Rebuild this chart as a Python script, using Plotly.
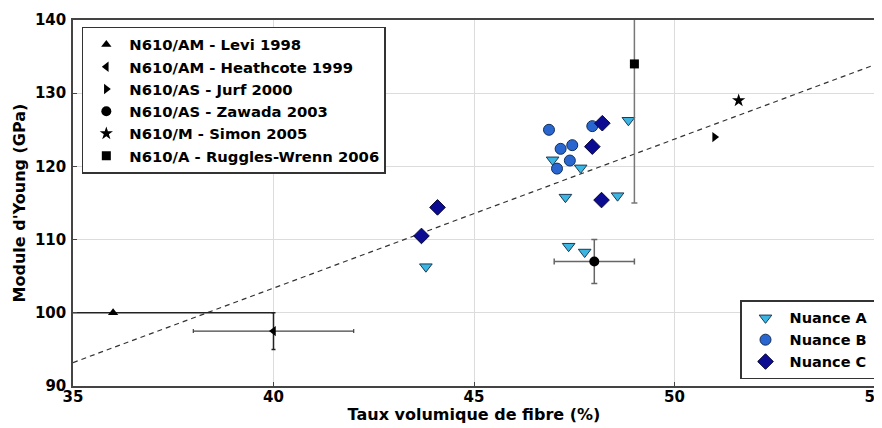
import plotly.graph_objects as go

# ---------------- data ----------------
# Literature references (single points with error bars)
levi_x, levi_y = [36.0], [100.0]
levi_xerr = [4.0]

heath_x, heath_y = [40.0], [97.5]
heath_xerr, heath_yerr = [2.0], [2.5]

jurf_x, jurf_y = [51.0], [124.0]

zawada_x, zawada_y = [48.0], [107.0]
zawada_xerr, zawada_yerr = [1.0], [3.0]

simon_x, simon_y = [51.6], [129.0]

ruggles_x, ruggles_y = [49.0], [134.0]
ruggles_yerr = [19.0]

# Nuances
nuanceA_x = [43.80, 46.96, 47.28, 47.36, 47.66, 47.76, 48.58, 48.85]
nuanceA_y = [106.3, 120.9, 115.8, 109.1, 119.8, 108.3, 116.0, 126.3]

nuanceB_x = [46.87, 47.16, 47.45, 47.39, 47.07, 47.95]
nuanceB_y = [125.0, 122.4, 122.9, 120.8, 119.7, 125.5]

nuanceC_x = [48.20, 47.95, 48.18, 44.09, 43.69]
nuanceC_y = [125.9, 122.7, 115.4, 114.4, 110.5]

# Linear trend line endpoints
fit_x = [35.0, 55.0]
fit_y = [93.2, 133.9]

x_ticks = [35, 40, 45, 50, 55]
y_ticks = [90, 100, 110, 120, 130, 140]

# ---------------- figure ----------------
FONT = "DejaVu Sans"
fig = go.Figure()

fig.add_trace(go.Scatter(x=fit_x, y=fit_y, mode="lines",
                         line=dict(color="#333333", width=1.2, dash="5px,4px"),
                         showlegend=False, hoverinfo="skip"))

fig.add_trace(go.Scatter(x=nuanceA_x, y=nuanceA_y, mode="markers", name="Nuance A",
                         marker=dict(symbol="triangle-down", size=11, color="#3bb6e2",
                                     line=dict(color="#1a3a55", width=1)),
                         legend="legend2"))
fig.add_trace(go.Scatter(x=nuanceB_x, y=nuanceB_y, mode="markers", name="Nuance B",
                         marker=dict(symbol="circle", size=11, color="#2a66d0",
                                     line=dict(color="#10305a", width=1)),
                         legend="legend2"))
fig.add_trace(go.Scatter(x=nuanceC_x, y=nuanceC_y, mode="markers", name="Nuance C",
                         marker=dict(symbol="diamond", size=12, color="#0c0c92",
                                     line=dict(color="#05053a", width=1)),
                         legend="legend2"))

err_col = "#444444"
fig.add_trace(go.Scatter(x=levi_x, y=levi_y, mode="markers", name="N610/AM - Levi 1998",
                         marker=dict(symbol="triangle-up", size=9, color="black"),
                         error_x=dict(type="data", array=levi_xerr, color="#222222",
                                      thickness=1.5, width=0)))
fig.add_trace(go.Scatter(x=heath_x, y=heath_y, mode="markers", name="N610/AM - Heathcote 1999",
                         marker=dict(symbol="triangle-left", size=9, color="black"),
                         error_x=dict(type="data", array=heath_xerr, color=err_col,
                                      thickness=1.2, width=2),
                         error_y=dict(type="data", array=heath_yerr, color="#222222",
                                      thickness=1.5, width=2)))
fig.add_trace(go.Scatter(x=jurf_x, y=jurf_y, mode="markers", name="N610/AS - Jurf 2000",
                         marker=dict(symbol="triangle-right", size=9, color="black")))
fig.add_trace(go.Scatter(x=zawada_x, y=zawada_y, mode="markers", name="N610/AS - Zawada 2003",
                         marker=dict(symbol="circle", size=10, color="black"),
                         error_x=dict(type="data", array=zawada_xerr, color="#666666",
                                      thickness=1.5, width=3),
                         error_y=dict(type="data", array=zawada_yerr, color="#666666",
                                      thickness=1.5, width=3)))
fig.add_trace(go.Scatter(x=simon_x, y=simon_y, mode="markers", name="N610/M - Simon 2005",
                         marker=dict(symbol="star", size=10, color="black")))
fig.add_trace(go.Scatter(x=ruggles_x, y=ruggles_y, mode="markers", name="N610/A - Ruggles-Wrenn 2006",
                         marker=dict(symbol="square", size=9, color="black"),
                         error_y=dict(type="data", array=ruggles_yerr, color="#777777",
                                      thickness=1.5, width=3)))

axis_common = dict(showline=True, linecolor="#444444", linewidth=1.5, mirror=True,
                   ticks="inside", ticklen=4, tickcolor="#444444", automargin=False,
                   showgrid=True, gridcolor="#dcdcdc", gridwidth=1, zeroline=False,
                   ticklabeloverflow="allow",
                   tickfont=dict(family=FONT, size=15, color="black", weight="bold"))

# The page body adds an 8px offset, so the figure is sized a little smaller
fig.update_layout(
    width=874, height=416,
    margin=dict(l=65, r=7, t=12, b=38),
    paper_bgcolor="white", plot_bgcolor="white",
    font=dict(family=FONT, color="black"),
    xaxis=dict(range=[35, 55], tickvals=x_ticks, ticktext=[str(v) for v in x_ticks],
               ticklabelstandoff=-4,
               title=dict(text="Taux volumique de fibre (%)", standoff=3,
                          font=dict(family=FONT, size=16, color="black", weight="bold")),
               **axis_common),
    yaxis=dict(range=[90, 140], tickvals=y_ticks, ticktext=[str(v) for v in y_ticks],
               ticklabelstandoff=2,
               title=dict(text="Module d'Young (GPa)", standoff=5,
                          font=dict(family=FONT, size=16, color="black", weight="bold")),
               **axis_common),
    legend=dict(x=0.011, y=0.981, xanchor="left", yanchor="top",
                bordercolor="#333333", borderwidth=1.5, bgcolor="white",
                itemwidth=36,
                font=dict(family=FONT, size=14.8, color="black", weight="bold"),
                tracegroupgap=0),
    legend2=dict(x=1.0, y=0.018, xanchor="right", yanchor="bottom",
                 bordercolor="#333333", borderwidth=1.5, bgcolor="white",
                 itemwidth=38,
                 font=dict(family=FONT, size=14.5, color="black", weight="bold")),
)

fig.write_html("out.html")
